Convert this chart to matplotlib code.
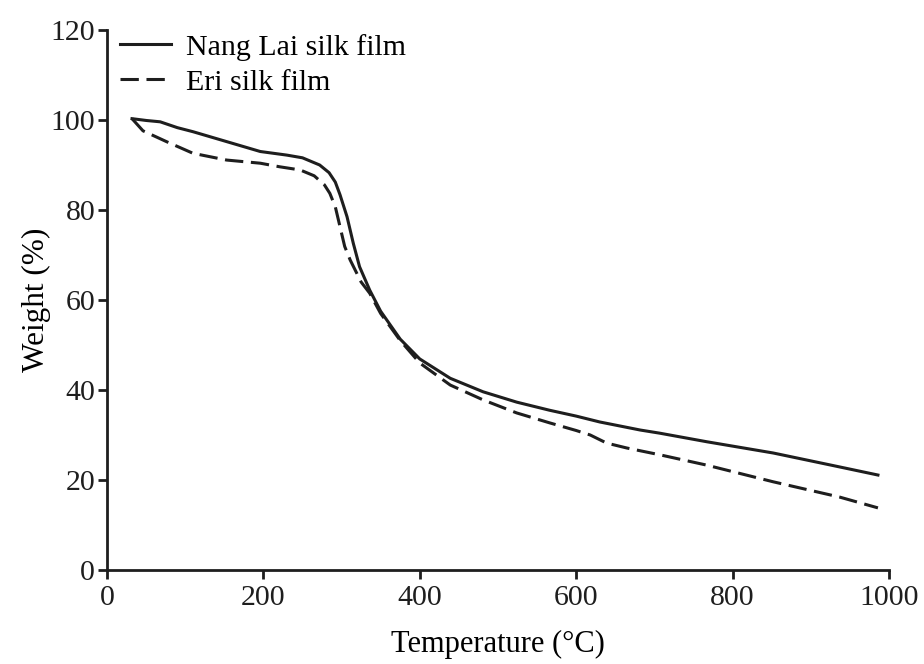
import numpy as np
import matplotlib.pyplot as plt

# Values
temp_nang = [32, 50, 68, 90, 110, 153, 196, 230, 250, 272, 284, 292, 298, 307, 315, 323,
             336, 350, 375, 400, 439, 481, 524, 566, 600, 630, 682, 707, 767, 852, 937, 986]
weight_nang = [100.3, 99.9, 99.6, 98.3, 97.4, 95.2, 93.0, 92.2, 91.6, 90.0, 88.3, 86.2,
               83.4, 78.5, 72.6, 67.4, 62.2, 57.5, 51.3, 46.9, 42.6, 39.6, 37.3, 35.5,
               34.2, 32.9, 31.1, 30.4, 28.5, 26.0, 22.9, 21.1]

temp_eri = [32, 46, 76, 110, 153, 196, 221, 247, 265, 278, 285, 292, 298, 304, 311, 325,
            336, 350, 375, 400, 439, 481, 524, 566, 600, 618, 639, 665, 707, 767, 852,
            937, 986]
weight_eri = [100.3, 97.6, 95.2, 92.6, 91.1, 90.4, 89.6, 88.9, 87.6, 85.6, 83.7, 80.7,
              76.3, 71.9, 68.9, 64.0, 61.5, 57.0, 51.0, 46.0, 41.1, 37.8, 34.9, 32.7,
              31.0, 30.0, 28.2, 27.1, 25.6, 23.3, 19.6, 16.2, 13.8]

plt.rcParams['font.family'] = ['Liberation Serif', 'DejaVu Serif']

fig = plt.figure(figsize=(9.24, 6.64), dpi=100)
ax = fig.add_axes([0.1158, 0.1416, 0.8462, 0.8132])

line_col = '#1e1e1e'
ax.plot(temp_nang, weight_nang, color=line_col, lw=2.2, label='Nang Lai silk film')
ax.plot(temp_eri, weight_eri, color=line_col, lw=2.2, ls=(0, (6, 2.5)), label='Eri silk film')

ax.set_xlim(0, 1000)
ax.set_ylim(0, 120)
ax.set_xticks(np.arange(0, 1001, 200))
ax.set_yticks(np.arange(0, 121, 20))
ax.spines['top'].set_visible(False)
ax.spines['right'].set_visible(False)
for s in ['left', 'bottom']:
    ax.spines[s].set_linewidth(2)
    ax.spines[s].set_color(line_col)
ax.tick_params(width=2, length=6.5, labelsize=21.5, colors=line_col)
ax.tick_params(axis='y', pad=2)
ax.tick_params(axis='x', pad=4)

ax.set_xlabel('Temperature (°C)', fontsize=22, labelpad=14)
ax.set_ylabel('Weight (%)', fontsize=22.5, labelpad=0)

ax.legend(loc='upper left', frameon=False, fontsize=21.5, handlelength=1.7,
          handletextpad=0.5, borderpad=0, borderaxespad=0, labelspacing=0.27,
          bbox_to_anchor=(0.0166, 0.993))

fig.savefig('out.png', dpi=100)
